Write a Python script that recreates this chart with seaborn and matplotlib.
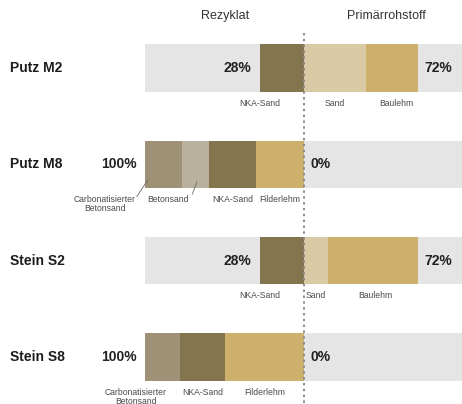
import matplotlib
matplotlib.use("Agg")
import matplotlib.pyplot as plt
import seaborn as sns
import pandas as pd
import numpy as np

# ---------------- data ----------------
rows = ["Putz M2", "Putz M8", "Stein S2", "Stein S8"]
rezyklat_pct = [28, 100, 28, 100]
primaer_pct = [72, 0, 72, 0]

seg_row = ["Putz M2", "Putz M2", "Putz M2",
           "Putz M8", "Putz M8", "Putz M8", "Putz M8",
           "Stein S2", "Stein S2", "Stein S2",
           "Stein S8", "Stein S8", "Stein S8"]
seg_side = ["L", "R", "R",
            "L", "L", "L", "L",
            "L", "R", "R",
            "L", "L", "L"]
seg_material = ["NKA-Sand", "Sand", "Baulehm",
                "Carbonatisierter\nBetonsand", "Betonsand", "NKA-Sand", "Filderlehm",
                "NKA-Sand", "Sand", "Baulehm",
                "Carbonatisierter\nBetonsand", "NKA-Sand", "Filderlehm"]
seg_value = [28, 39, 33,
             23, 17, 30, 30,
             28, 15, 57,
             22, 28, 50]

headers = ["Rezyklat", "Primärrohstoff"]
scale_min = [-100, -100, -100, -100]
scale_max = [100, 100, 100, 100]

# ---------------- style ----------------
colors = {
    "NKA-Sand": "#85754f",
    "Sand": "#d9caa5",
    "Baulehm": "#ccb06b",
    "Filderlehm": "#ccb06b",
    "Carbonatisierter\nBetonsand": "#9f9175",
    "Betonsand": "#b9b19e",
}
BG = "#e5e5e5"
BAR_H = 0.49

sns.set_theme(style="white")
plt.rcParams["font.family"] = ["Liberation Sans", "DejaVu Sans"]

fig = plt.figure(figsize=(4.62, 4.04), dpi=100)
ax = fig.add_axes([0, 0, 1, 1])

# background bars (full -100..100 range) via seaborn, one call per side
for side_vals in (scale_min, scale_max):
    bg = pd.DataFrame({"row": rows, "val": side_vals})
    sns.barplot(data=bg, x="val", y="row", order=rows, orient="h", color=BG,
                width=BAR_H, saturation=1, ax=ax, errorbar=None, linewidth=0)

# stacked segments
df = pd.DataFrame({"row": seg_row, "side": seg_side, "mat": seg_material, "val": seg_value})
df["ypos"] = df["row"].map({r: i for i, r in enumerate(rows)})
starts = []
for r in rows:
    sub = df[df["row"] == r]
    left = sub[sub["side"] == "L"]
    pos = -left["val"].sum()
    for idx in left.index:
        starts.append((idx, pos))
        pos += df.loc[idx, "val"]
    pos = 0
    for idx in sub[sub["side"] == "R"].index:
        starts.append((idx, pos))
        pos += df.loc[idx, "val"]
df["start"] = pd.Series(dict(starts))
ax.barh(df["ypos"], df["val"], left=df["start"], height=BAR_H,
        color=[colors[m] for m in df["mat"]], linewidth=0, zorder=3)

# segment labels (layout shifts for a few labels)
label_shift = {(0, "NKA-Sand"): -14, (2, "NKA-Sand"): -14,
               (1, "Carbonatisierter\nBetonsand"): -37, (1, "Betonsand"): -17,
               (3, "Carbonatisierter\nBetonsand"): -17, (2, "Baulehm"): 1.5,
               (0, "Baulehm"): 3}
for _, s in df.iterrows():
    cx = s["start"] + s["val"] / 2 + label_shift.get((s["ypos"], s["mat"]), 0)
    ax.text(cx, s["ypos"] + BAR_H / 2 + 0.075, s["mat"], ha="center", va="top",
            fontsize=6.2, color="#4a4a4a", linespacing=1.0, zorder=5)

# leader lines for Putz M8
for (x0, y0, x1, y1) in [(-105.5, 1.335, -98.5, 1.16), (-70.5, 1.31, -67.5, 1.18)]:
    ax.plot([x0, x1], [y0, y1], color="#6b6b6b", lw=0.6, zorder=6)

# row labels & percentages
for i, r in enumerate(rows):
    ax.text(-185.5, i, r, ha="left", va="center", fontsize=10, fontweight="bold",
            color="#1c1c1c")
    ax.annotate(f"{rezyklat_pct[i]}%", xy=(-rezyklat_pct[i], i), xytext=(-6, 0),
                textcoords="offset points", ha="right", va="center",
                fontsize=10, fontweight="bold", color="#222222", zorder=6)
    ax.annotate(f"{primaer_pct[i]}%", xy=(primaer_pct[i], i), xytext=(4.5, 0),
                textcoords="offset points", ha="left", va="center",
                fontsize=10, fontweight="bold", color="#222222", zorder=6)

# headers
ax.text(-50, -0.54, headers[0], ha="center", va="center", fontsize=9, color="#333333")
ax.text(52, -0.54, headers[1], ha="center", va="center", fontsize=9, color="#333333")

# dotted center line
ax.plot([0, 0], [-0.36, 3.6], color="#8a8a8a", lw=1.4, ls=(0, (1.2, 1.8)), zorder=7)

ax.set_xlim(-191.8, 99.7)
ax.set_ylim(3.488, -0.706)
ax.axis("off")

fig.savefig("out.png", dpi=100)
